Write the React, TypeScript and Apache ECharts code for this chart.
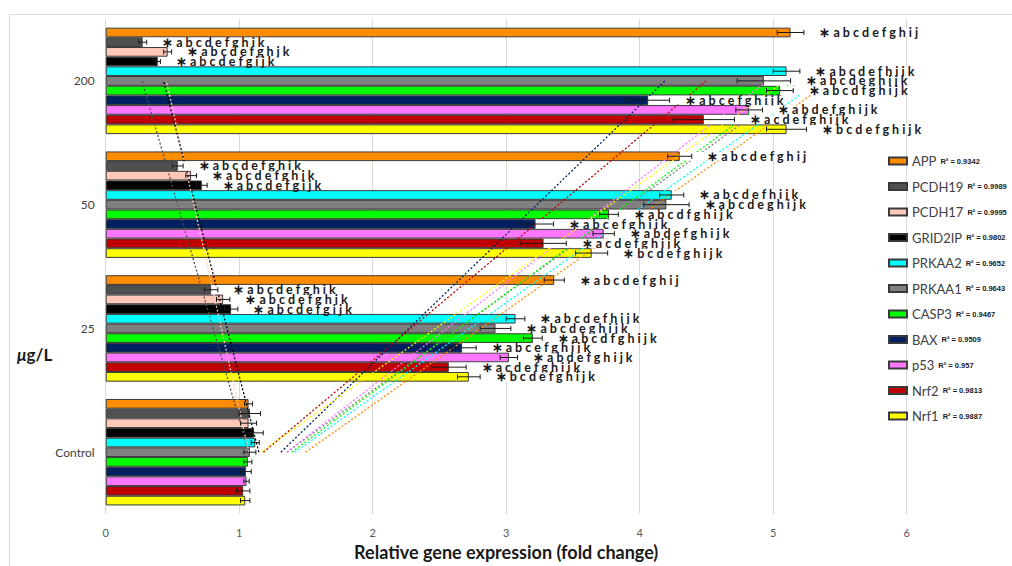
import React, { useEffect, useRef } from "react";
import * as echarts from "echarts";

// Dose groups on the category axis (bottom to top)
const CATEGORIES = ["Control", "25", "50", "200"];

// Genes in plotting order (top bar of each group first)
const GENES = ["APP", "PCDH19", "PCDH17", "GRID2IP", "PRKAA2", "PRKAA1", "CASP3", "BAX", "p53", "Nrf2", "Nrf1"];
const COLORS = ["#FF8C00", "#505050", "#FFC8B8", "#000000", "#00FFFF", "#808080", "#00FF00", "#002060", "#FF77FF", "#C00000", "#FFFF00"];
const R_SQUARED = ["0.9342", "0.9989", "0.9995", "0.9802", "0.9652", "0.9643", "0.9467", "0.9509", "0.957", "0.9813", "0.9887"];
const SIGNIFICANCE = ["∗abcdefghij", "∗abcdefghik", "∗abcdefghjk", "∗abcdefgijk", "∗abcdefhijk", "∗abcdeghijk", "∗abcdfghijk", "∗abcefghijk", "∗abdefghijk", "∗acdefghijk", "∗bcdefghijk"];

// Relative expression (fold change) per dose, in GENES order
const CONTROL_VALUES = [1.07, 1.08, 1.07, 1.11, 1.12, 1.08, 1.065, 1.05, 1.055, 1.03, 1.045];
const CONTROL_ERRORS = [0.03, 0.08, 0.06, 0.07, 0.03, 0.045, 0.03, 0.04, 0.02, 0.05, 0.035];
const DOSE25_VALUES = [3.36, 0.79, 0.88, 0.94, 3.07, 2.92, 3.2, 2.67, 3.02, 2.57, 2.72];
const DOSE25_ERRORS = [0.075, 0.05, 0.05, 0.05, 0.07, 0.115, 0.07, 0.105, 0.065, 0.13, 0.085];
const DOSE50_VALUES = [4.3, 0.54, 0.64, 0.72, 4.24, 4.2, 3.77, 3.22, 3.73, 3.28, 3.64];
const DOSE50_ERRORS = [0.09, 0.04, 0.04, 0.04, 0.09, 0.17, 0.07, 0.135, 0.08, 0.17, 0.12];
const DOSE200_VALUES = [5.13, 0.277, 0.464, 0.39, 5.1, 4.93, 5.05, 4.064, 4.82, 4.48, 5.1];
const DOSE200_ERRORS = [0.1, 0.03, 0.03, 0.02, 0.1, 0.2, 0.1, 0.16, 0.1, 0.23, 0.15];

const X_TICKS = [0, 1, 2, 3, 4, 5, 6];

const VALUES_BY_DOSE = [CONTROL_VALUES, DOSE25_VALUES, DOSE50_VALUES, DOSE200_VALUES];
const ERRORS_BY_DOSE = [CONTROL_ERRORS, DOSE25_ERRORS, DOSE50_ERRORS, DOSE200_ERRORS];

const CATEGORY_GAP = 0.14;
const FONT_STACK = "Lato, 'Open Sans', sans-serif";
const LABEL_FONT = `bold 12.5px ${FONT_STACK}`;

// Least-squares line of value vs dose index (1..4)
function linearFit(ys: number[]) {
  const xs = ys.map((_, i) => i + 1);
  const n = ys.length;
  const mx = xs.reduce((a, b) => a + b, 0) / n;
  const my = ys.reduce((a, b) => a + b, 0) / n;
  let sxy = 0;
  let sxx = 0;
  for (let i = 0; i < n; i++) {
    sxy += (xs[i] - mx) * (ys[i] - my);
    sxx += (xs[i] - mx) * (xs[i] - mx);
  }
  const slope = sxy / sxx;
  return (x: number) => my + slope * (x - mx);
}

function spaced(s: string) {
  return s.split("").join(" ");
}

export default function App() {
  const ref = useRef<HTMLDivElement>(null);

  useEffect(() => {
    if (!ref.current) return;
    const chart = echarts.init(ref.current, undefined, { renderer: "svg" });

    const barSeries = GENES.map((gene, g) => ({
      type: "bar",
      name: gene,
      data: VALUES_BY_DOSE.map((vals) => vals[g]),
      barGap: "0%",
      barCategoryGap: `${CATEGORY_GAP * 100}%`,
      itemStyle: { color: COLORS[g], borderColor: "#3a3a3a", borderWidth: 1 },
      z: 2,
      silent: true,
    }));

    const trendSeries = GENES.map((gene, g) => {
      const fit = linearFit(VALUES_BY_DOSE.map((vals) => vals[g]));
      return {
        type: "line",
        name: gene + " trend",
        data: [
          [fit(1), CATEGORIES[0]],
          [fit(4), CATEGORIES[3]],
        ],
        symbol: "none",
        lineStyle: { color: COLORS[g], width: 1.3, type: [2, 2] },
        z: 3,
        silent: true,
      };
    });

    // Error bars and significance labels, one item per bar
    const errorData: number[][] = [];
    const errorLabels: string[] = [];
    VALUES_BY_DOSE.forEach((vals, c) => {
      GENES.forEach((_, g) => {
        errorData.push([vals[g], ERRORS_BY_DOSE[c][g], c, g]);
        errorLabels.push(c === 0 ? "" : spaced(SIGNIFICANCE[g]));
      });
    });

    const errorSeries = {
      type: "custom",
      name: "errors",
      data: errorData,
      encode: { x: 0, y: 2 },
      z: 4,
      silent: true,
      renderItem: (params: any, api: any) => {
        const v = api.value(0);
        const e = api.value(1);
        const c = api.value(2);
        const g = api.value(3);
        const center = api.coord([v, c]);
        const band = api.size([0, 1])[1];
        const total = band * (1 - CATEGORY_GAP);
        const barW = total / GENES.length;
        const yc = center[1] - total / 2 + (g + 0.5) * barW;
        const xv = center[0];
        const xl = api.coord([v - e, c])[0];
        const xr = api.coord([v + e, c])[0];
        const cap = 2.5;
        const stroke = { stroke: "#1a1a1a", lineWidth: 1 };
        const children: any[] = [];
        const text = errorLabels[params.dataIndex];
        if (text) {
          children.push({
            type: "text",
            x: xv + 0.5,
            y: yc,
            style: {
              text,
              font: LABEL_FONT,
              fill: "#1a1a1a",
              align: "left",
              verticalAlign: "middle",
              backgroundColor: "#ffffff",
              lineHeight: barW - 1,
              padding: [0, 3, 0, xr - xv + 15],
            },
          });
        }
        children.push(
          { type: "line", shape: { x1: xl, y1: yc, x2: xr, y2: yc }, style: stroke },
          { type: "line", shape: { x1: xl, y1: yc - cap, x2: xl, y2: yc + cap }, style: stroke },
          { type: "line", shape: { x1: xr, y1: yc - cap, x2: xr, y2: yc + cap }, style: stroke }
        );
        return { type: "group", children };
      },
    };

    chart.setOption({
      animation: false,
      textStyle: { fontFamily: FONT_STACK },
      grid: { left: 105.7, right: 105.3, top: 19, bottom: 48, containLabel: false },
      xAxis: {
        type: "value",
        min: X_TICKS[0],
        max: X_TICKS[X_TICKS.length - 1],
        interval: 1,
        axisLine: { show: false },
        axisTick: { show: false },
        splitLine: { lineStyle: { color: "#d9d9d9", width: 1 } },
        axisLabel: { color: "#595959", fontSize: 11, margin: 13 },
        name: "Relative gene expression (fold change)",
        nameLocation: "middle",
        nameGap: 26,
        nameTextStyle: { fontSize: 18, fontWeight: "bold", color: "#1a1a1a", fontFamily: FONT_STACK },
      },
      yAxis: {
        type: "category",
        data: CATEGORIES,
        axisLine: { show: false },
        axisTick: { show: false },
        splitLine: { show: false },
        axisLabel: { color: "#404040", fontSize: 12, margin: 11 },
      },
      legend: {
        data: GENES,
        orient: "vertical",
        left: 883,
        top: 149,
        itemWidth: 18,
        itemHeight: 7,
        itemGap: 11.5,
        icon: "rect",
        selectedMode: false,
        formatter: (name: string) => `${name}{r|R² = ${R_SQUARED[GENES.indexOf(name)]}}`,
        textStyle: {
          fontFamily: FONT_STACK,
          fontSize: 13,
          color: "#404040",
          lineHeight: 14,
          rich: {
            r: {
              fontSize: 7.5,
              fontWeight: "bold",
              fontFamily: "'Liberation Sans', Arial, sans-serif",
              color: "#1a1a1a",
              padding: [0, 0, 0, 4],
            },
          },
        },
      },
      graphic: [
        {
          type: "rect",
          left: 7,
          top: 12,
          shape: { width: 1100, height: 700 },
          style: { fill: "none", stroke: "#d9d9d9", lineWidth: 1 },
          silent: true,
          z: -10,
        },
        {
          type: "text",
          left: 17,
          top: 346,
          style: {
            text: "{i|μ}g/L",
            font: `bold 17px ${FONT_STACK}`,
            fill: "#1a1a1a",
            rich: {
              i: { fontStyle: "italic", fontWeight: "bold", fontSize: 17, fontFamily: FONT_STACK, fill: "#1a1a1a" },
            },
          },
        },
      ],
      series: [...barSeries, ...trendSeries, errorSeries],
    });

    return () => chart.dispose();
  }, []);

  return <div ref={ref} style={{ position: "absolute", left: 0, top: 0, width: 1012, height: 566, background: "#fff" }} />;
}
